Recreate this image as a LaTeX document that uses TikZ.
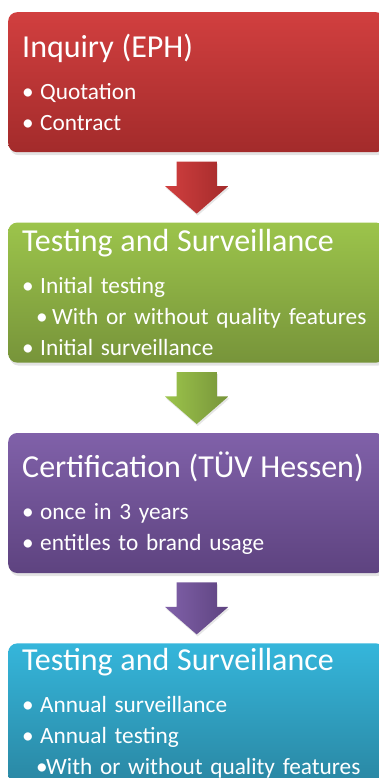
\documentclass[tikz,border=0pt]{standalone}
\usepackage{fontspec}
\setmainfont{Carlito}
\usetikzlibrary{positioning,shapes.arrows,shadows}

\definecolor{redtop}{HTML}{D13F3F}
\definecolor{redbot}{HTML}{A32B2B}
\definecolor{greentop}{HTML}{9CC44B}
\definecolor{greenbot}{HTML}{77943A}
\definecolor{violettop}{HTML}{8061A9}
\definecolor{violetbot}{HTML}{5E4380}
\definecolor{cyantop}{HTML}{35B6DB}
\definecolor{cyanbot}{HTML}{2A87A3}

\newcommand{\headline}[1]{{\fontsize{32}{32}\selectfont #1}\\[11pt]}
\newcommand{\bitem}[1]{\makebox[18pt][l]{•}#1}
\newcommand{\bsubitem}[1]{\hspace*{14pt}\makebox[16pt][l]{•}#1}

\begin{document}
\begin{tikzpicture}[x=1pt,y=1pt]
\tikzstyle{stage}=[rounded corners=9pt, minimum width=377pt, minimum height=140pt,
  text width=349pt, inner xsep=14pt, inner ysep=0pt, align=left, text=white,
  font=\fontsize{23.3}{31}\selectfont,
  drop shadow={shadow xshift=1.5pt, shadow yshift=-3pt, opacity=0.22}]
\tikzstyle{downarrow}=[single arrow, rotate=-90, anchor=tail, minimum height=52pt,
  inner xsep=0pt, inner ysep=20pt, single arrow head extend=11.5pt,
  single arrow tip angle=98,
  drop shadow={shadow xshift=1pt, shadow yshift=-2pt, opacity=0.2}]
\useasboundingbox (0,0) rectangle (379,-778);
\clip (0,0) rectangle (379,-778);

\node [stage, anchor=north west, top color=redtop, bottom color=redbot] (inq) at (8,-12)
  {\headline{Inquiry (EPH)}\bitem{Quotation}\\\bitem{Contract}};
\node [downarrow, left color=redtop, right color=redbot] (ar1) at ([yshift=-9pt]inq.south) {};

\node [stage, below=70pt of inq, top color=greentop, bottom color=greenbot] (tst)
  {\headline{Testing and Surveillance}\bitem{Initial testing}\\\bsubitem{With or without quality features}\\\bitem{Initial surveillance}};
\node [downarrow, left color=greentop, right color=greenbot] (ar2) at ([yshift=-9pt]tst.south) {};

\node [stage, below=70pt of tst, top color=violettop, bottom color=violetbot] (cert)
  {\headline{Certification (TÜV Hessen)}\bitem{once in 3 years}\\\bitem{entitles to brand usage}};
\node [downarrow, left color=violettop, right color=violetbot] (ar3) at ([yshift=-9pt]cert.south) {};

\node [stage, below=70pt of cert, top color=cyantop, bottom color=cyanbot] (ann)
  {\headline{Testing and Surveillance}\bitem{Annual surveillance}\\\bitem{Annual testing}\\\hspace*{14pt}\makebox[10pt][l]{•}With or without quality features};
\end{tikzpicture}
\end{document}
